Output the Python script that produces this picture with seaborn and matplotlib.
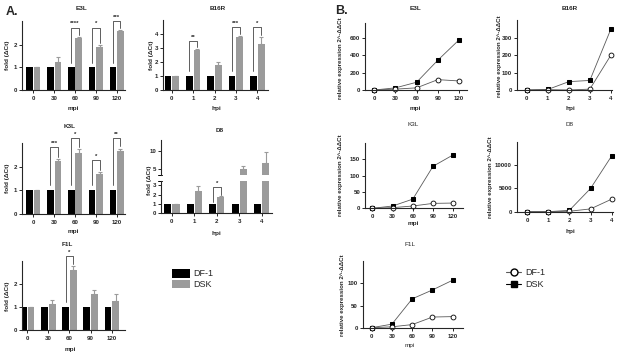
import numpy as np
import pandas as pd
import matplotlib
matplotlib.use('Agg')
import matplotlib.pyplot as plt
from matplotlib.patches import Patch
from matplotlib.lines import Line2D
import seaborn as sns

# --- data (panel A: fold change, panel B: relative expression) ---
mpi = [0, 30, 60, 90, 120]
hpi = [0, 1, 2, 3, 4]
cells = ['DF-1', 'DSK']

e3l_fold_df1 = [1, 1, 1, 1, 1]
e3l_fold_dsk = [1.0, 1.25, 2.3, 1.9, 2.6]
e3l_fold_err = [0, 0.2, 0.05, 0.1, 0.05]
e3l_stars = [(2, 2.75, '****'), (3, 2.75, '*'), (4, 3.05, '***')]

b16r_fold_df1 = [1, 1, 1, 1, 1]
b16r_fold_dsk = [1.0, 2.85, 1.8, 3.8, 3.3]
b16r_fold_err = [0, 0.1, 0.2, 0.08, 0.5]
b16r_stars = [(1, 3.5, '**'), (3, 4.5, '***'), (4, 4.5, '*')]

k3l_fold_df1 = [1, 1, 1, 1, 1]
k3l_fold_dsk = [1.0, 2.25, 2.6, 1.7, 2.65]
k3l_fold_err = [0, 0.08, 0.15, 0.08, 0.12]
k3l_stars = [(1, 2.83, '***'), (2, 3.2, '*'), (3, 2.28, '*'), (4, 3.2, '**')]

d8_fold_df1 = [1, 1, 1, 1, 1]
d8_fold_dsk = [1.0, 2.45, 1.75, 5.0, 6.7]
d8_fold_err = [0, 0.5, 0.1, 0.7, 3.0]
d8_stars = [(2, 2.83, '*')]

f1l_fold_df1 = [1, 1, 1, 1, 1]
f1l_fold_dsk = [1.0, 1.15, 2.6, 1.55, 1.25]
f1l_fold_err = [0, 0.15, 0.2, 0.2, 0.3]
f1l_stars = [(2, 3.2, '*')]

e3l_rel_df1 = [0, 10, 25, 120, 105]
e3l_rel_dsk = [0, 25, 90, 345, 580]
b16r_rel_df1 = [0, 2, 0, 5, 200]
b16r_rel_dsk = [0, 3, 48, 55, 350]
k3l_rel_df1 = [0, 2, 7, 15, 16]
k3l_rel_dsk = [0, 7, 28, 128, 163]
d8_rel_df1 = [0, 0, 100, 600, 2700]
d8_rel_dsk = [0, 0, 300, 5000, 12000]
f1l_rel_df1 = [0, 2, 7, 24, 25]
f1l_rel_dsk = [0, 8, 65, 85, 107]

BLACK = '#000000'
GRAY = '#9b9b9b'
LINE = '#5a5a5a'

sns.set_theme(style='ticks')
plt.rcParams['font.family'] = ['Liberation Sans', 'DejaVu Sans']
plt.rcParams['font.weight'] = 'bold'
plt.rcParams['axes.linewidth'] = 0.8
plt.rcParams['xtick.major.width'] = 0.7
plt.rcParams['ytick.major.width'] = 0.7
plt.rcParams['xtick.major.size'] = 2.2
plt.rcParams['ytick.major.size'] = 2.2
plt.rcParams['xtick.major.pad'] = 2.0
plt.rcParams['ytick.major.pad'] = 1.2
plt.rcParams['xtick.labelsize'] = 4.4
plt.rcParams['ytick.labelsize'] = 4.4

W, H = 623, 353
fig = plt.figure(figsize=(W / 100, H / 100), dpi=100)
FS = 4.6  # axis label / title size


def box(l, r, b, t):
    return fig.add_axes([l / W, 1 - b / H, (r - l) / W, (b - t) / H])


def lab(x, y, s, size=FS, rot=0, weight='bold'):
    fig.text(x / W, 1 - y / H, s, ha='center', va='center', fontsize=size,
             rotation=rot, fontweight=weight)


def style(ax):
    sns.despine(ax=ax)
    ax.set_xlabel('')
    ax.set_ylabel('')
    for t in ax.get_xticklabels() + ax.get_yticklabels():
        t.set_fontweight('bold')


def bars(ax, cats, df1, dsk, err, xlim, ylim, yticks):
    df = pd.DataFrame({'t': [str(c) for c in cats] * 2,
                       'v': list(df1) + list(dsk),
                       'cell': ['DF-1'] * len(cats) + ['DSK'] * len(cats)})
    sns.barplot(data=df, x='t', y='v', hue='cell', order=[str(c) for c in cats],
                palette=[BLACK, GRAY], width=0.72, gap=0.12, errorbar=None,
                saturation=1, legend=False, linewidth=0, edgecolor='none', ax=ax)
    xs = np.arange(len(cats)) + 0.18
    ax.errorbar(xs, dsk, yerr=[np.zeros(len(cats)), err], fmt='none', ecolor=GRAY,
                elinewidth=0.8, capsize=1.3, capthick=0.8)
    ax.set_xlim(*xlim)
    ax.set_ylim(*ylim)
    ax.set_yticks(yticks)
    style(ax)


def brackets(ax, stars, df1, dsk, err, rng):
    for i, h, s in stars:
        xl, xr = i - 0.18, i + 0.18
        ax.plot([xl, xl, xr, xr], [df1[i] + 0.07 * rng, h, h, dsk[i] + err[i] + 0.03 * rng],
                color='#444444', lw=0.6, clip_on=False)
        ax.text(i, h + 0.02 * rng, s, ha='center', va='bottom', fontsize=4.3,
                fontweight='bold', clip_on=False)


def lines(ax, x, df1, dsk, xlim, ylim, yticks):
    sns.lineplot(x=x, y=dsk, ax=ax, color=LINE, lw=0.6, marker='s', markersize=3.3,
                 markerfacecolor='black', markeredgecolor='black', clip_on=False)
    sns.lineplot(x=x, y=df1, ax=ax, color=LINE, lw=0.6, marker='o', markersize=3.5,
                 markerfacecolor='white', markeredgecolor='black', markeredgewidth=0.6,
                 clip_on=False)
    ax.set_xlim(*xlim)
    ax.set_ylim(*ylim)
    ax.set_xticks(x)
    ax.set_yticks(yticks)
    style(ax)


# ---------------- panel A ----------------
ax = box(22, 125, 90, 20.8)
bars(ax, mpi, e3l_fold_df1, e3l_fold_dsk, e3l_fold_err, (-0.54, 4.4), (0, 3.05), [0, 1, 2])
brackets(ax, e3l_stars, e3l_fold_df1, e3l_fold_dsk, e3l_fold_err, 3)
lab(82, 9, 'E3L')
lab(73, 108, 'mpi')
lab(7.5, 55, 'fold (ΔCt)', rot=90)

ax = box(163, 268, 90, 20)
bars(ax, hpi, b16r_fold_df1, b16r_fold_dsk, b16r_fold_err, (-0.41, 4.5), (0, 5), [0, 1, 2, 3, 4])
brackets(ax, b16r_stars, b16r_fold_df1, b16r_fold_dsk, b16r_fold_err, 5)
lab(218, 9, 'B16R')
lab(216, 108, 'hpi')
lab(152, 55, 'fold (ΔCt)', rot=90)

ax = box(22, 125, 213.7, 143.2)
bars(ax, mpi, k3l_fold_df1, k3l_fold_dsk, k3l_fold_err, (-0.54, 4.4), (0, 3), [0, 1, 2])
brackets(ax, k3l_stars, k3l_fold_df1, k3l_fold_dsk, k3l_fold_err, 3)
lab(70, 127, 'K3L')
lab(73, 232, 'mpi')
lab(7.5, 178, 'fold (ΔCt)', rot=90)

# D8 with broken y axis
ax_hi = box(160.7, 271.7, 174.5, 139.6)
bars(ax_hi, hpi, d8_fold_df1, d8_fold_dsk, d8_fold_err, (-0.5, 4.45), (3.5, 13), [5, 10])
ax_hi.spines['bottom'].set_visible(False)
ax_hi.tick_params(axis='x', bottom=False, labelbottom=False)
ax = box(160.7, 271.7, 213.3, 180.8)
bars(ax, hpi, d8_fold_df1, d8_fold_dsk, d8_fold_err, (-0.5, 4.45), (0, 3.5), [0, 1, 2, 3])
brackets(ax, d8_stars, d8_fold_df1, d8_fold_dsk, d8_fold_err, 3.5)
# small break marks on the y axis
for a, yy in ((ax_hi, 0), (ax, 1)):
    a.plot([-0.025, 0.01], [yy, yy], transform=a.transAxes, color='black',
           lw=0.7, clip_on=False)
lab(220, 130, 'D8')
lab(216, 233, 'hpi')
lab(149.5, 180, 'fold (ΔCt)', rot=90)

ax = box(22, 125, 330, 261)
bars(ax, mpi, f1l_fold_df1, f1l_fold_dsk, f1l_fold_err, (-0.25, 4.63), (0, 3), [0, 1, 2])
brackets(ax, f1l_stars, f1l_fold_df1, f1l_fold_dsk, f1l_fold_err, 3)
lab(67, 245, 'F1L')
lab(70, 350, 'mpi')
lab(7.5, 296, 'fold (ΔCt)', rot=90)

fig.legend(handles=[Patch(facecolor=BLACK, edgecolor='none', label='DF-1'),
                    Patch(facecolor=GRAY, edgecolor='none', label='DSK')],
           loc='upper left', bbox_to_anchor=(172 / W, 1 - 269 / H), frameon=False,
           handlelength=2.0, handleheight=1.1, handletextpad=0.3,
           labelspacing=0.15, borderpad=0, borderaxespad=0,
           prop={'weight': 'normal', 'size': 6.5})

# ---------------- panel B ----------------
ylab = 'relative expression 2^-ΔΔCt'
YS = 4.4

ax = box(365, 466.7, 90, 22.7)
lines(ax, mpi, e3l_rel_df1, e3l_rel_dsk, (-13.2, 131), (0, 780), [0, 200, 400, 600])
lab(415, 9, 'E3L')
lab(415, 108, 'mpi')
lab(340, 58, ylab, YS, 90)

ax = box(516.7, 611.7, 90, 20.4)
lines(ax, hpi, b16r_rel_df1, b16r_rel_dsk, (-0.48, 4.04), (0, 400), [0, 100, 200, 300])
lab(570, 9, 'B16R')
lab(570, 108, 'hpi')
lab(500, 56, ylab, YS, 90)

ax = box(365, 463.3, 208.3, 142.7)
lines(ax, mpi, k3l_rel_df1, k3l_rel_dsk, (-11, 135), (0, 200), [0, 50, 100, 150])
lab(413, 125, 'K3L', weight='normal')
lab(413, 223, 'mpi')
lab(340, 175, ylab, YS, 90)

ax = box(516.7, 613.3, 211.7, 142.1)
lines(ax, hpi, d8_rel_df1, d8_rel_dsk, (-0.5, 4.08), (0, 15000), [0, 5000, 10000])
lab(570, 125, 'D8', weight='normal')
lab(570, 232, 'hpi')
lab(490.7, 177, ylab, YS, 90)

ax = box(362.7, 463.3, 327.7, 261.1)
lines(ax, mpi, f1l_rel_df1, f1l_rel_dsk, (-13.3, 135.7), (0, 150), [0, 50, 100])
lab(410, 245, 'F1L', weight='normal')
lab(410, 345, 'mpi', weight='normal')
lab(342.7, 295, ylab, YS, 90)

fig.legend(handles=[Line2D([], [], color=LINE, lw=0.8, marker='o', markersize=5,
                           markerfacecolor='white', markeredgecolor='black', label='DF-1'),
                    Line2D([], [], color='black', lw=0.8, marker='s', markersize=4.5,
                           markerfacecolor='black', label='DSK')],
           loc='upper left', bbox_to_anchor=(506 / W, 1 - 268 / H), frameon=False,
           handlelength=1.7, handletextpad=0.4, labelspacing=0.3, borderpad=0,
           borderaxespad=0, prop={'weight': 'normal', 'size': 6.5})

lab(12, 12, 'A.', 9)
lab(341, 11, 'B.', 9)

fig.savefig('out.png', dpi=100)
